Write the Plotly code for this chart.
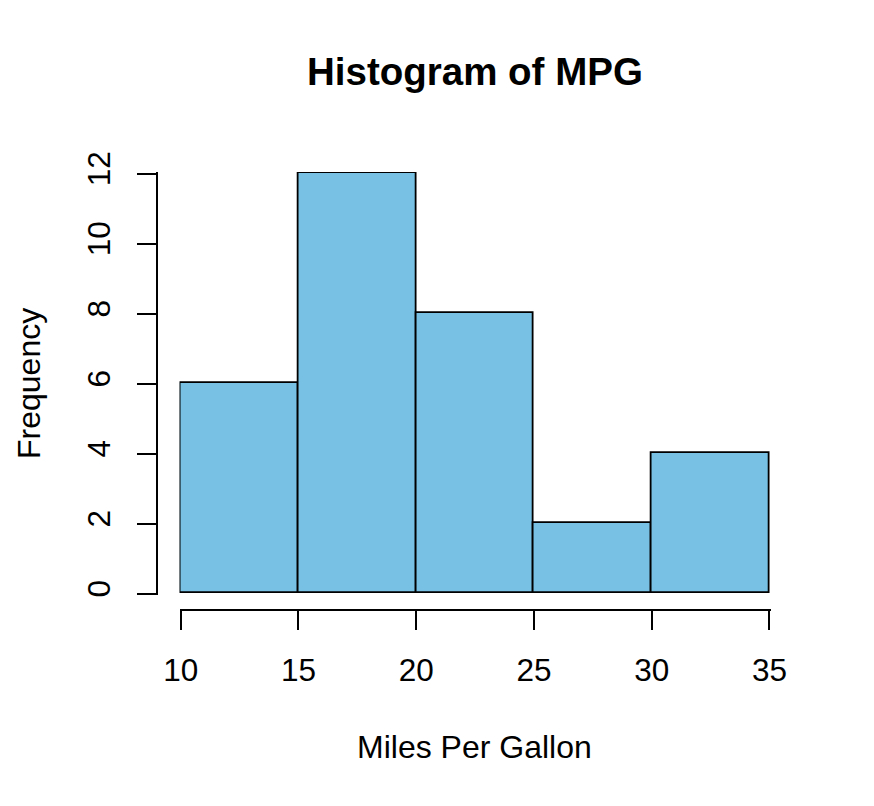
import plotly.graph_objects as go

# histogram of MPG (base R style)
bin_edges = [10, 15, 20, 25, 30, 35]
counts = [6, 12, 8, 2, 4]
x_ticks = [10, 15, 20, 25, 30, 35]
y_ticks = [0, 2, 4, 6, 8, 10, 12]

PAGE_W, PAGE_H = 874, 806
OFF = 8   # default body margin of the html page
W, H = PAGE_W - 2 * OFF, PAGE_H - 2 * OFF
FONT = "Liberation Sans, Arial, Helvetica, sans-serif"


def px(p):
    # page x pixel -> paper fraction
    return (p - OFF) / W


def py(p):
    # page y pixel -> paper fraction
    return (H - (p - OFF)) / H


# pixel mapping of the plot region (page pixels)
x_px0, x_ppu = 180.7, 23.55   # pixel of x=10, pixels per unit
y_px0, y_ppu = 593.5, 35.0    # pixel of y=0, pixels per unit
x_rng = [9.95, 35.05]
y_rng = [-0.04, 12.04]

xd = [px(x_px0 + (x_rng[0] - 10) * x_ppu), px(x_px0 + (x_rng[1] - 10) * x_ppu)]
yd = [py(y_px0 - y_rng[0] * y_ppu), py(y_px0 - y_rng[1] * y_ppu)]

fig = go.Figure()
fig.add_trace(go.Bar(
    x=bin_edges[:-1],
    y=counts,
    width=[bin_edges[i + 1] - bin_edges[i] for i in range(len(counts))],
    offset=0,
    marker=dict(color="#78C1E4", line=dict(color="black", width=1.8)),
    hoverinfo="skip",
))

axis_common = dict(
    showgrid=False, zeroline=False, showline=True, linecolor="black", linewidth=2,
    ticks="outside", ticklen=19, tickwidth=2, tickcolor="black",
    tickfont=dict(family=FONT, size=31.5, color="black"),
    anchor="free", automargin=False,
)

fig.update_layout(
    width=W, height=H,
    margin=dict(l=0, r=0, t=0, b=0, autoexpand=False),
    paper_bgcolor="white", plot_bgcolor="white",
    showlegend=False,
    bargap=0,
    xaxis=dict(axis_common, domain=xd, range=x_rng, tickvals=x_ticks,
               position=py(610), ticklabelstandoff=13),
    yaxis=dict(axis_common, domain=yd, range=y_rng, tickvals=y_ticks,
               position=px(157.3), tickangle=-90, ticklabelstandoff=15),
    annotations=[
        dict(text="<b>Histogram of MPG</b>", x=px(474.5), y=py(72),
             xref="paper", yref="paper", showarrow=False,
             xanchor="center", yanchor="middle",
             font=dict(family=FONT, size=38.5, color="black")),
        dict(text="Miles Per Gallon", x=px(474.5), y=py(747),
             xref="paper", yref="paper", showarrow=False,
             xanchor="center", yanchor="middle",
             font=dict(family=FONT, size=32, color="black")),
        dict(text="Frequency", x=px(29), y=py(384),
             xref="paper", yref="paper", showarrow=False, textangle=-90,
             xanchor="center", yanchor="middle",
             font=dict(family=FONT, size=32, color="black")),
    ],
)

fig.write_html("out.html")
